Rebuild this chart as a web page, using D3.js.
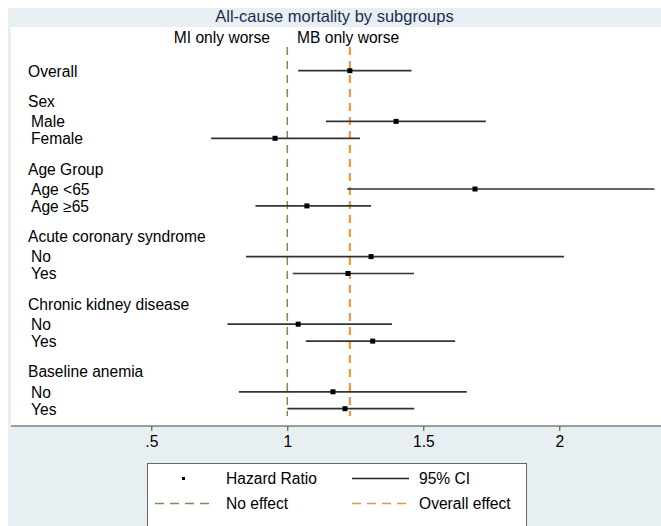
<!DOCTYPE html>
<html>
<head>
<meta charset="utf-8">
<script src="https://cdn.jsdelivr.net/npm/d3@7"></script>
<style>
  body { margin: 0; background: #fff; }
  text { font-family: "Liberation Sans", Arial, Helvetica, sans-serif; }
</style>
</head>
<body>
<svg id="chart" width="661" height="526"></svg>
<script>
// rows top to bottom; headers have no estimate
const rowLabels = ["Overall", "Sex", "Male", "Female", "Age Group", "Age <65", "Age \u226565",
  "Acute coronary syndrome", "No", "Yes", "Chronic kidney disease", "No", "Yes",
  "Baseline anemia", "No", "Yes"];
const rowPos = [0, 1.8, 3, 4, 5.8, 7, 8, 9.8, 11, 12, 13.8, 15, 16, 17.8, 19, 20];
const hr    = [1.23, null, 1.40, 0.955, null, 1.69, 1.072, null, 1.308, 1.223, null, 1.04, 1.314, null, 1.168, 1.212];
const lower = [1.04, null, 1.142, 0.72, null, 1.22, 0.883, null, 0.848, 1.02, null, 0.78, 1.068, null, 0.822, 1.0];
const upper = [1.457, null, 1.73, 1.267, null, 2.35, 1.308, null, 2.017, 1.466, null, 1.385, 1.617, null, 1.66, 1.467];
const noEffect = 1;
const overallEffect = 1.23;
const tickValues = [0.5, 1, 1.5, 2];
const title = "All-cause mortality by subgroups";
const sideLabels = ["MI only worse", "MB only worse"];
const legendItems = ["Hazard Ratio", "95% CI", "No effect", "Overall effect"];

const bg = "#e8eff3", green = "#6a9a40", orange = "#f2922c";
const fs = 15.6;

const svg = d3.select("#chart");
const W = 661, H = 526;
const plot = { left: 11, top: 27, right: 661, bottom: 426 };

// outer graph region + title band
svg.append("rect").attr("x", 8).attr("y", 8).attr("width", W - 8).attr("height", H - 8).attr("fill", bg);
svg.append("rect").attr("x", plot.left).attr("y", plot.top)
  .attr("width", plot.right - plot.left).attr("height", plot.bottom - plot.top).attr("fill", "#fff");

svg.append("text")
  .attr("x", (8 + W) / 2).attr("y", 22)
  .attr("text-anchor", "middle")
  .attr("font-size", 16.5).attr("fill", "#1e2b52")
  .text(title);

const x = d3.scaleLinear().domain([0.5, 2]).range([151.3, 559.3]);
const y = d3.scaleLinear().domain([0, 20]).range([70.7, 408.7]);

// reference lines
svg.append("line")
  .attr("x1", x(noEffect)).attr("x2", x(noEffect))
  .attr("y1", 47).attr("y2", 416)
  .attr("stroke", green).attr("stroke-width", 1.5).attr("stroke-dasharray", "8,6");
svg.append("line")
  .attr("x1", x(overallEffect)).attr("x2", x(overallEffect))
  .attr("y1", 47).attr("y2", 416)
  .attr("stroke", orange).attr("stroke-width", 2).attr("stroke-dasharray", "8,6");

// side labels
svg.append("text").attr("x", 270).attr("y", 43).attr("text-anchor", "end")
  .attr("font-size", fs).attr("fill", "#000").text(sideLabels[0]);
svg.append("text").attr("x", 297).attr("y", 43)
  .attr("font-size", fs).attr("fill", "#000").text(sideLabels[1]);

const rows = rowLabels.map((d, i) => ({
  label: d, pos: rowPos[i], hr: hr[i], lo: lower[i], hi: upper[i],
  header: hr[i] === null || i === 0
}));

// labels
svg.append("g").selectAll("text")
  .data(rows)
  .join("text")
  .attr("x", d => d.header ? 28 : 31)
  .attr("y", d => y(d.pos) + 5.8)
  .attr("font-size", fs)
  .attr("fill", "#000")
  .text(d => d.label);

const est = rows.filter(d => d.hr !== null);

// CI lines
svg.append("g").selectAll("line")
  .data(est)
  .join("line")
  .attr("x1", d => x(d.lo)).attr("x2", d => x(d.hi))
  .attr("y1", d => y(d.pos)).attr("y2", d => y(d.pos))
  .attr("stroke", "#333").attr("stroke-width", 1.7);

// point estimates
svg.append("g").selectAll("rect")
  .data(est)
  .join("rect")
  .attr("x", d => x(d.hr) - 2.5).attr("y", d => y(d.pos) - 2.5)
  .attr("width", 5).attr("height", 5)
  .attr("fill", "#000");

// axis
svg.append("line")
  .attr("x1", plot.left).attr("x2", plot.right)
  .attr("y1", plot.bottom).attr("y2", plot.bottom)
  .attr("stroke", "#444").attr("stroke-width", 1);

svg.append("g")
  .attr("transform", `translate(0,${plot.bottom})`)
  .call(d3.axisBottom(x).tickValues(tickValues).tickSize(5).tickPadding(5)
    .tickFormat(d => String(d).replace(/^0\./, ".")))
  .call(g => g.select(".domain").remove())
  .call(g => g.selectAll(".tick line").attr("stroke", "#444"))
  .call(g => g.selectAll(".tick text").attr("font-size", fs).attr("fill", "#000")
    .attr("font-family", "Liberation Sans, Arial, sans-serif"));

// legend
const lg = svg.append("g");
lg.append("rect").attr("x", 147.5).attr("y", 463.5).attr("width", 379).attr("height", 80)
  .attr("fill", "#fff").attr("stroke", "#666").attr("stroke-width", 1);
lg.append("rect").attr("x", 182).attr("y", 477).attr("width", 3).attr("height", 3).attr("fill", "#000");
lg.append("line").attr("x1", 352).attr("x2", 409).attr("y1", 478.5).attr("y2", 478.5)
  .attr("stroke", "#222").attr("stroke-width", 1.4);
lg.append("line").attr("x1", 155).attr("x2", 213).attr("y1", 503.5).attr("y2", 503.5)
  .attr("stroke", green).attr("stroke-width", 1.4).attr("stroke-dasharray", "9,6");
lg.append("line").attr("x1", 352).attr("x2", 409).attr("y1", 503.5).attr("y2", 503.5)
  .attr("stroke", orange).attr("stroke-width", 1.6).attr("stroke-dasharray", "9,6");
const lgPos = [[226, 484], [419, 484], [226, 509], [419, 509]];
lg.selectAll("text.lab")
  .data(legendItems)
  .join("text")
  .attr("class", "lab")
  .attr("x", (d, i) => lgPos[i][0]).attr("y", (d, i) => lgPos[i][1])
  .attr("font-size", fs).attr("fill", "#000")
  .text(d => d);
</script>
</body>
</html>
